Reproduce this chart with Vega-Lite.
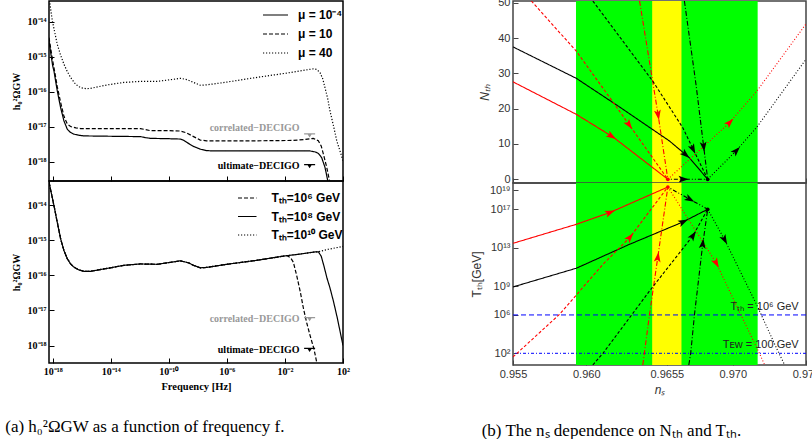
{
  "$schema": "https://vega.github.io/schema/vega-lite/v6.json",
  "padding": {"left": 5, "top": -4, "right": 0, "bottom": 0},
  "background": "white",
  "config": {
    "axis": {"grid": false, "domain": false, "labelOverlap": false, "labelFlush": false, "labelBound": false, "labelSeparation": 0},
    "view": {"stroke": null}
  },
  "datasets": {
    "gw_mu": [
      {"mu": "μ = 10⁻⁴", "log10_f": -18.25, "log10_h2Omega": -14.55},
      {"mu": "μ = 10⁻⁴", "log10_f": -18.0, "log10_h2Omega": -15.25},
      {"mu": "μ = 10⁻⁴", "log10_f": -17.91, "log10_h2Omega": -15.4},
      {"mu": "μ = 10⁻⁴", "log10_f": -17.68, "log10_h2Omega": -15.97},
      {"mu": "μ = 10⁻⁴", "log10_f": -17.45, "log10_h2Omega": -16.45},
      {"mu": "μ = 10⁻⁴", "log10_f": -17.22, "log10_h2Omega": -16.83},
      {"mu": "μ = 10⁻⁴", "log10_f": -16.99, "log10_h2Omega": -17.07},
      {"mu": "μ = 10⁻⁴", "log10_f": -16.77, "log10_h2Omega": -17.16},
      {"mu": "μ = 10⁻⁴", "log10_f": -16.54, "log10_h2Omega": -17.21},
      {"mu": "μ = 10⁻⁴", "log10_f": -16.2, "log10_h2Omega": -17.24},
      {"mu": "μ = 10⁻⁴", "log10_f": -15.85, "log10_h2Omega": -17.26},
      {"mu": "μ = 10⁻⁴", "log10_f": -14.0, "log10_h2Omega": -17.27},
      {"mu": "μ = 10⁻⁴", "log10_f": -11.95, "log10_h2Omega": -17.28},
      {"mu": "μ = 10⁻⁴", "log10_f": -11.6, "log10_h2Omega": -17.31},
      {"mu": "μ = 10⁻⁴", "log10_f": -11.26, "log10_h2Omega": -17.33},
      {"mu": "μ = 10⁻⁴", "log10_f": -10.0, "log10_h2Omega": -17.34},
      {"mu": "μ = 10⁻⁴", "log10_f": -9.2, "log10_h2Omega": -17.35},
      {"mu": "μ = 10⁻⁴", "log10_f": -8.95, "log10_h2Omega": -17.39},
      {"mu": "μ = 10⁻⁴", "log10_f": -8.74, "log10_h2Omega": -17.45},
      {"mu": "μ = 10⁻⁴", "log10_f": -8.3, "log10_h2Omega": -17.56},
      {"mu": "μ = 10⁻⁴", "log10_f": -7.83, "log10_h2Omega": -17.64},
      {"mu": "μ = 10⁻⁴", "log10_f": -7.4, "log10_h2Omega": -17.68},
      {"mu": "μ = 10⁻⁴", "log10_f": -7.0, "log10_h2Omega": -17.69},
      {"mu": "μ = 10⁻⁴", "log10_f": -3.0, "log10_h2Omega": -17.69},
      {"mu": "μ = 10⁻⁴", "log10_f": -0.28, "log10_h2Omega": -17.69},
      {"mu": "μ = 10⁻⁴", "log10_f": 0.1, "log10_h2Omega": -17.72},
      {"mu": "μ = 10⁻⁴", "log10_f": 0.3, "log10_h2Omega": -17.76},
      {"mu": "μ = 10⁻⁴", "log10_f": 0.53, "log10_h2Omega": -17.88},
      {"mu": "μ = 10⁻⁴", "log10_f": 0.76, "log10_h2Omega": -18.16},
      {"mu": "μ = 10⁻⁴", "log10_f": 1.0, "log10_h2Omega": -18.64},
      {"mu": "μ = 10", "log10_f": -18.25, "log10_h2Omega": -14.45},
      {"mu": "μ = 10", "log10_f": -18.0, "log10_h2Omega": -15.1},
      {"mu": "μ = 10", "log10_f": -17.91, "log10_h2Omega": -15.3},
      {"mu": "μ = 10", "log10_f": -17.68, "log10_h2Omega": -15.85},
      {"mu": "μ = 10", "log10_f": -17.45, "log10_h2Omega": -16.3},
      {"mu": "μ = 10", "log10_f": -17.22, "log10_h2Omega": -16.7},
      {"mu": "μ = 10", "log10_f": -16.99, "log10_h2Omega": -16.92},
      {"mu": "μ = 10", "log10_f": -16.76, "log10_h2Omega": -16.99},
      {"mu": "μ = 10", "log10_f": -16.4, "log10_h2Omega": -17.03},
      {"mu": "μ = 10", "log10_f": -16.08, "log10_h2Omega": -17.05},
      {"mu": "μ = 10", "log10_f": -14.0, "log10_h2Omega": -17.05},
      {"mu": "μ = 10", "log10_f": -11.95, "log10_h2Omega": -17.05},
      {"mu": "μ = 10", "log10_f": -11.6, "log10_h2Omega": -17.08},
      {"mu": "μ = 10", "log10_f": -11.26, "log10_h2Omega": -17.11},
      {"mu": "μ = 10", "log10_f": -10.0, "log10_h2Omega": -17.11},
      {"mu": "μ = 10", "log10_f": -9.2, "log10_h2Omega": -17.12},
      {"mu": "μ = 10", "log10_f": -8.8, "log10_h2Omega": -17.17},
      {"mu": "μ = 10", "log10_f": -8.29, "log10_h2Omega": -17.28},
      {"mu": "μ = 10", "log10_f": -7.83, "log10_h2Omega": -17.38},
      {"mu": "μ = 10", "log10_f": -7.4, "log10_h2Omega": -17.4},
      {"mu": "μ = 10", "log10_f": -4.0, "log10_h2Omega": -17.4},
      {"mu": "μ = 10", "log10_f": -1.5, "log10_h2Omega": -17.39},
      {"mu": "μ = 10", "log10_f": -0.6, "log10_h2Omega": -17.36},
      {"mu": "μ = 10", "log10_f": -0.04, "log10_h2Omega": -17.33},
      {"mu": "μ = 10", "log10_f": 0.3, "log10_h2Omega": -17.4},
      {"mu": "μ = 10", "log10_f": 0.5, "log10_h2Omega": -17.55},
      {"mu": "μ = 10", "log10_f": 0.65, "log10_h2Omega": -17.78},
      {"mu": "μ = 10", "log10_f": 0.88, "log10_h2Omega": -18.16},
      {"mu": "μ = 10", "log10_f": 1.1, "log10_h2Omega": -18.6},
      {"mu": "μ = 40", "log10_f": -18.25, "log10_h2Omega": -13.3},
      {"mu": "μ = 40", "log10_f": -18.02, "log10_h2Omega": -13.97},
      {"mu": "μ = 40", "log10_f": -17.68, "log10_h2Omega": -14.64},
      {"mu": "μ = 40", "log10_f": -17.45, "log10_h2Omega": -14.95},
      {"mu": "μ = 40", "log10_f": -17.22, "log10_h2Omega": -15.21},
      {"mu": "μ = 40", "log10_f": -16.99, "log10_h2Omega": -15.42},
      {"mu": "μ = 40", "log10_f": -16.76, "log10_h2Omega": -15.59},
      {"mu": "μ = 40", "log10_f": -16.42, "log10_h2Omega": -15.78},
      {"mu": "μ = 40", "log10_f": -16.08, "log10_h2Omega": -15.88},
      {"mu": "μ = 40", "log10_f": -15.7, "log10_h2Omega": -15.91},
      {"mu": "μ = 40", "log10_f": -15.39, "log10_h2Omega": -15.9},
      {"mu": "μ = 40", "log10_f": -14.24, "log10_h2Omega": -15.8},
      {"mu": "μ = 40", "log10_f": -13.1, "log10_h2Omega": -15.73},
      {"mu": "μ = 40", "log10_f": -11.95, "log10_h2Omega": -15.7},
      {"mu": "μ = 40", "log10_f": -10.8, "log10_h2Omega": -15.7},
      {"mu": "μ = 40", "log10_f": -9.66, "log10_h2Omega": -15.64},
      {"mu": "μ = 40", "log10_f": -9.2, "log10_h2Omega": -15.61},
      {"mu": "μ = 40", "log10_f": -8.74, "log10_h2Omega": -15.65},
      {"mu": "μ = 40", "log10_f": -8.29, "log10_h2Omega": -15.73},
      {"mu": "μ = 40", "log10_f": -7.83, "log10_h2Omega": -15.81},
      {"mu": "μ = 40", "log10_f": -7.4, "log10_h2Omega": -15.8},
      {"mu": "μ = 40", "log10_f": -6.0, "log10_h2Omega": -15.72},
      {"mu": "μ = 40", "log10_f": -4.0, "log10_h2Omega": -15.59},
      {"mu": "μ = 40", "log10_f": -2.0, "log10_h2Omega": -15.47},
      {"mu": "μ = 40", "log10_f": -0.04, "log10_h2Omega": -15.34},
      {"mu": "μ = 40", "log10_f": 0.2, "log10_h2Omega": -15.36},
      {"mu": "μ = 40", "log10_f": 0.42, "log10_h2Omega": -15.45},
      {"mu": "μ = 40", "log10_f": 0.6, "log10_h2Omega": -15.62},
      {"mu": "μ = 40", "log10_f": 0.76, "log10_h2Omega": -15.88},
      {"mu": "μ = 40", "log10_f": 0.95, "log10_h2Omega": -16.2},
      {"mu": "μ = 40", "log10_f": 1.1, "log10_h2Omega": -16.54},
      {"mu": "μ = 40", "log10_f": 1.35, "log10_h2Omega": -16.98},
      {"mu": "μ = 40", "log10_f": 1.57, "log10_h2Omega": -17.4},
      {"mu": "μ = 40", "log10_f": 1.8, "log10_h2Omega": -17.7},
      {"mu": "μ = 40", "log10_f": 2.0, "log10_h2Omega": -17.97}
    ],
    "gw_tth": [
      {"T_th": "Tₜₕ=10⁶ GeV", "log10_f": -18.25, "log10_h2Omega": -13.33},
      {"T_th": "Tₜₕ=10⁶ GeV", "log10_f": -17.91, "log10_h2Omega": -14.0},
      {"T_th": "Tₜₕ=10⁶ GeV", "log10_f": -17.68, "log10_h2Omega": -14.48},
      {"T_th": "Tₜₕ=10⁶ GeV", "log10_f": -17.45, "log10_h2Omega": -14.95},
      {"T_th": "Tₜₕ=10⁶ GeV", "log10_f": -17.22, "log10_h2Omega": -15.29},
      {"T_th": "Tₜₕ=10⁶ GeV", "log10_f": -16.99, "log10_h2Omega": -15.52},
      {"T_th": "Tₜₕ=10⁶ GeV", "log10_f": -16.76, "log10_h2Omega": -15.67},
      {"T_th": "Tₜₕ=10⁶ GeV", "log10_f": -16.54, "log10_h2Omega": -15.76},
      {"T_th": "Tₜₕ=10⁶ GeV", "log10_f": -16.19, "log10_h2Omega": -15.84},
      {"T_th": "Tₜₕ=10⁶ GeV", "log10_f": -15.85, "log10_h2Omega": -15.88},
      {"T_th": "Tₜₕ=10⁶ GeV", "log10_f": -15.39, "log10_h2Omega": -15.88},
      {"T_th": "Tₜₕ=10⁶ GeV", "log10_f": -14.01, "log10_h2Omega": -15.78},
      {"T_th": "Tₜₕ=10⁶ GeV", "log10_f": -13.1, "log10_h2Omega": -15.71},
      {"T_th": "Tₜₕ=10⁶ GeV", "log10_f": -11.95, "log10_h2Omega": -15.67},
      {"T_th": "Tₜₕ=10⁶ GeV", "log10_f": -10.8, "log10_h2Omega": -15.68},
      {"T_th": "Tₜₕ=10⁶ GeV", "log10_f": -9.66, "log10_h2Omega": -15.61},
      {"T_th": "Tₜₕ=10⁶ GeV", "log10_f": -9.2, "log10_h2Omega": -15.58},
      {"T_th": "Tₜₕ=10⁶ GeV", "log10_f": -8.63, "log10_h2Omega": -15.64},
      {"T_th": "Tₜₕ=10⁶ GeV", "log10_f": -8.29, "log10_h2Omega": -15.71},
      {"T_th": "Tₜₕ=10⁶ GeV", "log10_f": -7.83, "log10_h2Omega": -15.78},
      {"T_th": "Tₜₕ=10⁶ GeV", "log10_f": -7.4, "log10_h2Omega": -15.77},
      {"T_th": "Tₜₕ=10⁶ GeV", "log10_f": -6.0, "log10_h2Omega": -15.68},
      {"T_th": "Tₜₕ=10⁶ GeV", "log10_f": -4.0, "log10_h2Omega": -15.57},
      {"T_th": "Tₜₕ=10⁶ GeV", "log10_f": -2.0, "log10_h2Omega": -15.44},
      {"T_th": "Tₜₕ=10⁶ GeV", "log10_f": -1.87, "log10_h2Omega": -15.43},
      {"T_th": "Tₜₕ=10⁶ GeV", "log10_f": -1.6, "log10_h2Omega": -15.5},
      {"T_th": "Tₜₕ=10⁶ GeV", "log10_f": -1.42, "log10_h2Omega": -15.62},
      {"T_th": "Tₜₕ=10⁶ GeV", "log10_f": -1.19, "log10_h2Omega": -16.0},
      {"T_th": "Tₜₕ=10⁶ GeV", "log10_f": -0.95, "log10_h2Omega": -16.45},
      {"T_th": "Tₜₕ=10⁶ GeV", "log10_f": -0.72, "log10_h2Omega": -16.95},
      {"T_th": "Tₜₕ=10⁶ GeV", "log10_f": -0.5, "log10_h2Omega": -17.35},
      {"T_th": "Tₜₕ=10⁶ GeV", "log10_f": -0.27, "log10_h2Omega": -17.71},
      {"T_th": "Tₜₕ=10⁶ GeV", "log10_f": 0.0, "log10_h2Omega": -18.1},
      {"T_th": "Tₜₕ=10⁶ GeV", "log10_f": 0.19, "log10_h2Omega": -18.48},
      {"T_th": "Tₜₕ=10⁶ GeV", "log10_f": 0.3, "log10_h2Omega": -18.7},
      {"T_th": "Tₜₕ=10⁸ GeV", "log10_f": -18.25, "log10_h2Omega": -13.33},
      {"T_th": "Tₜₕ=10⁸ GeV", "log10_f": -17.91, "log10_h2Omega": -14.0},
      {"T_th": "Tₜₕ=10⁸ GeV", "log10_f": -17.68, "log10_h2Omega": -14.48},
      {"T_th": "Tₜₕ=10⁸ GeV", "log10_f": -17.45, "log10_h2Omega": -14.95},
      {"T_th": "Tₜₕ=10⁸ GeV", "log10_f": -17.22, "log10_h2Omega": -15.29},
      {"T_th": "Tₜₕ=10⁸ GeV", "log10_f": -16.99, "log10_h2Omega": -15.52},
      {"T_th": "Tₜₕ=10⁸ GeV", "log10_f": -16.76, "log10_h2Omega": -15.67},
      {"T_th": "Tₜₕ=10⁸ GeV", "log10_f": -16.54, "log10_h2Omega": -15.76},
      {"T_th": "Tₜₕ=10⁸ GeV", "log10_f": -16.19, "log10_h2Omega": -15.84},
      {"T_th": "Tₜₕ=10⁸ GeV", "log10_f": -15.85, "log10_h2Omega": -15.88},
      {"T_th": "Tₜₕ=10⁸ GeV", "log10_f": -15.39, "log10_h2Omega": -15.88},
      {"T_th": "Tₜₕ=10⁸ GeV", "log10_f": -14.01, "log10_h2Omega": -15.78},
      {"T_th": "Tₜₕ=10⁸ GeV", "log10_f": -13.1, "log10_h2Omega": -15.71},
      {"T_th": "Tₜₕ=10⁸ GeV", "log10_f": -11.95, "log10_h2Omega": -15.67},
      {"T_th": "Tₜₕ=10⁸ GeV", "log10_f": -10.8, "log10_h2Omega": -15.68},
      {"T_th": "Tₜₕ=10⁸ GeV", "log10_f": -9.66, "log10_h2Omega": -15.61},
      {"T_th": "Tₜₕ=10⁸ GeV", "log10_f": -9.2, "log10_h2Omega": -15.58},
      {"T_th": "Tₜₕ=10⁸ GeV", "log10_f": -8.63, "log10_h2Omega": -15.64},
      {"T_th": "Tₜₕ=10⁸ GeV", "log10_f": -8.29, "log10_h2Omega": -15.71},
      {"T_th": "Tₜₕ=10⁸ GeV", "log10_f": -7.83, "log10_h2Omega": -15.78},
      {"T_th": "Tₜₕ=10⁸ GeV", "log10_f": -7.4, "log10_h2Omega": -15.77},
      {"T_th": "Tₜₕ=10⁸ GeV", "log10_f": -6.0, "log10_h2Omega": -15.68},
      {"T_th": "Tₜₕ=10⁸ GeV", "log10_f": -4.0, "log10_h2Omega": -15.57},
      {"T_th": "Tₜₕ=10⁸ GeV", "log10_f": -2.0, "log10_h2Omega": -15.44},
      {"T_th": "Tₜₕ=10⁸ GeV", "log10_f": -1.0, "log10_h2Omega": -15.39},
      {"T_th": "Tₜₕ=10⁸ GeV", "log10_f": 0.0, "log10_h2Omega": -15.33},
      {"T_th": "Tₜₕ=10⁸ GeV", "log10_f": 0.3, "log10_h2Omega": -15.32},
      {"T_th": "Tₜₕ=10⁸ GeV", "log10_f": 0.5, "log10_h2Omega": -15.45},
      {"T_th": "Tₜₕ=10⁸ GeV", "log10_f": 0.7, "log10_h2Omega": -15.75},
      {"T_th": "Tₜₕ=10⁸ GeV", "log10_f": 0.9, "log10_h2Omega": -16.08},
      {"T_th": "Tₜₕ=10⁸ GeV", "log10_f": 1.1, "log10_h2Omega": -16.35},
      {"T_th": "Tₜₕ=10⁸ GeV", "log10_f": 1.35, "log10_h2Omega": -16.75},
      {"T_th": "Tₜₕ=10⁸ GeV", "log10_f": 1.6, "log10_h2Omega": -17.2},
      {"T_th": "Tₜₕ=10⁸ GeV", "log10_f": 1.8, "log10_h2Omega": -17.6},
      {"T_th": "Tₜₕ=10⁸ GeV", "log10_f": 2.0, "log10_h2Omega": -18.0},
      {"T_th": "Tₜₕ=10¹⁰ GeV", "log10_f": -18.25, "log10_h2Omega": -13.33},
      {"T_th": "Tₜₕ=10¹⁰ GeV", "log10_f": -17.91, "log10_h2Omega": -14.0},
      {"T_th": "Tₜₕ=10¹⁰ GeV", "log10_f": -17.68, "log10_h2Omega": -14.48},
      {"T_th": "Tₜₕ=10¹⁰ GeV", "log10_f": -17.45, "log10_h2Omega": -14.95},
      {"T_th": "Tₜₕ=10¹⁰ GeV", "log10_f": -17.22, "log10_h2Omega": -15.29},
      {"T_th": "Tₜₕ=10¹⁰ GeV", "log10_f": -16.99, "log10_h2Omega": -15.52},
      {"T_th": "Tₜₕ=10¹⁰ GeV", "log10_f": -16.76, "log10_h2Omega": -15.67},
      {"T_th": "Tₜₕ=10¹⁰ GeV", "log10_f": -16.54, "log10_h2Omega": -15.76},
      {"T_th": "Tₜₕ=10¹⁰ GeV", "log10_f": -16.19, "log10_h2Omega": -15.84},
      {"T_th": "Tₜₕ=10¹⁰ GeV", "log10_f": -15.85, "log10_h2Omega": -15.88},
      {"T_th": "Tₜₕ=10¹⁰ GeV", "log10_f": -15.39, "log10_h2Omega": -15.88},
      {"T_th": "Tₜₕ=10¹⁰ GeV", "log10_f": -14.01, "log10_h2Omega": -15.78},
      {"T_th": "Tₜₕ=10¹⁰ GeV", "log10_f": -13.1, "log10_h2Omega": -15.71},
      {"T_th": "Tₜₕ=10¹⁰ GeV", "log10_f": -11.95, "log10_h2Omega": -15.67},
      {"T_th": "Tₜₕ=10¹⁰ GeV", "log10_f": -10.8, "log10_h2Omega": -15.68},
      {"T_th": "Tₜₕ=10¹⁰ GeV", "log10_f": -9.66, "log10_h2Omega": -15.61},
      {"T_th": "Tₜₕ=10¹⁰ GeV", "log10_f": -9.2, "log10_h2Omega": -15.58},
      {"T_th": "Tₜₕ=10¹⁰ GeV", "log10_f": -8.63, "log10_h2Omega": -15.64},
      {"T_th": "Tₜₕ=10¹⁰ GeV", "log10_f": -8.29, "log10_h2Omega": -15.71},
      {"T_th": "Tₜₕ=10¹⁰ GeV", "log10_f": -7.83, "log10_h2Omega": -15.78},
      {"T_th": "Tₜₕ=10¹⁰ GeV", "log10_f": -7.4, "log10_h2Omega": -15.77},
      {"T_th": "Tₜₕ=10¹⁰ GeV", "log10_f": -6.0, "log10_h2Omega": -15.68},
      {"T_th": "Tₜₕ=10¹⁰ GeV", "log10_f": -4.0, "log10_h2Omega": -15.57},
      {"T_th": "Tₜₕ=10¹⁰ GeV", "log10_f": -2.0, "log10_h2Omega": -15.44},
      {"T_th": "Tₜₕ=10¹⁰ GeV", "log10_f": -1.0, "log10_h2Omega": -15.39},
      {"T_th": "Tₜₕ=10¹⁰ GeV", "log10_f": 0.0, "log10_h2Omega": -15.33},
      {"T_th": "Tₜₕ=10¹⁰ GeV", "log10_f": 0.3, "log10_h2Omega": -15.32},
      {"T_th": "Tₜₕ=10¹⁰ GeV", "log10_f": 1.0, "log10_h2Omega": -15.25},
      {"T_th": "Tₜₕ=10¹⁰ GeV", "log10_f": 2.0, "log10_h2Omega": -15.17}
    ],
    "decigo": [
      {"detector": "correlated−DECIGO", "log10_f": -0.3, "log10_h2Omega": -17.25},
      {"detector": "ultimate−DECIGO", "log10_f": -0.3, "log10_h2Omega": -18.13}
    ],
    "planck": [
      {"band": "outer", "ns_low": 0.9593, "ns_high": 0.9717},
      {"band": "inner", "ns_low": 0.9645, "ns_high": 0.9665}
    ],
    "nth": [
      {"model": "A", "case": "1", "ns": 0.955, "N": 27.6},
      {"model": "A", "case": "1", "ns": 0.95932, "N": 18.4},
      {"model": "A", "case": "1", "ns": 0.96182, "N": 12.0},
      {"model": "A", "case": "1", "ns": 0.96557, "N": 0},
      {"model": "B", "case": "1", "ns": 0.955, "N": 37.5},
      {"model": "B", "case": "1", "ns": 0.95932, "N": 28.6},
      {"model": "B", "case": "1", "ns": 0.96227, "N": 20.5},
      {"model": "B", "case": "1", "ns": 0.96568, "N": 10.85},
      {"model": "B", "case": "1", "ns": 0.96704, "N": 6.1},
      {"model": "B", "case": "1", "ns": 0.96829, "N": 0},
      {"model": "A", "case": "2", "ns": 0.95625, "N": 50.5},
      {"model": "A", "case": "2", "ns": 0.95932, "N": 36.3},
      {"model": "A", "case": "2", "ns": 0.96227, "N": 19.3},
      {"model": "A", "case": "2", "ns": 0.96557, "N": 0},
      {"model": "A", "case": "3", "ns": 0.96364, "N": 50.5},
      {"model": "A", "case": "3", "ns": 0.96488, "N": 18.9},
      {"model": "A", "case": "3", "ns": 0.96557, "N": 0},
      {"model": "B", "case": "2", "ns": 0.96045, "N": 50.5},
      {"model": "B", "case": "2", "ns": 0.96454, "N": 27.8},
      {"model": "B", "case": "2", "ns": 0.96659, "N": 14.6},
      {"model": "B", "case": "2", "ns": 0.96829, "N": 0},
      {"model": "B", "case": "3", "ns": 0.9667, "N": 50.5},
      {"model": "B", "case": "3", "ns": 0.96749, "N": 26.9},
      {"model": "B", "case": "3", "ns": 0.96829, "N": 0},
      {"model": "A", "case": "4", "ns": 0.96557, "N": 0},
      {"model": "A", "case": "4", "ns": 0.96977, "N": 16.0},
      {"model": "A", "case": "4", "ns": 0.97165, "N": 25.0},
      {"model": "A", "case": "4", "ns": 0.975, "N": 44.0},
      {"model": "B", "case": "4", "ns": 0.96829, "N": 0},
      {"model": "B", "case": "4", "ns": 0.97022, "N": 8.0},
      {"model": "B", "case": "4", "ns": 0.97165, "N": 14.8},
      {"model": "B", "case": "4", "ns": 0.975, "N": 34.0},
      {"model": "B", "case": "5", "ns": 0.96557, "N": 0},
      {"model": "B", "case": "5", "ns": 0.96829, "N": 0}
    ],
    "nth_arrows": [
      {"model": "A", "ns": 0.9617, "N": 12.3, "heading": 122},
      {"model": "A", "ns": 0.9629, "N": 15.6, "heading": 145},
      {"model": "A", "ns": 0.9649, "N": 18.4, "heading": 171},
      {"model": "A", "ns": 0.96977, "N": 16.0, "heading": 45},
      {"model": "B", "ns": 0.96675, "N": 7.1, "heading": 130},
      {"model": "B", "ns": 0.96727, "N": 8.7, "heading": 154},
      {"model": "B", "ns": 0.96801, "N": 9.4, "heading": 173},
      {"model": "B", "ns": 0.97022, "N": 8.0, "heading": 43},
      {"model": "B", "ns": 0.96659, "N": 0, "heading": 90}
    ],
    "nth_dots": [
      {"model": "A", "ns": 0.96557, "N": 0},
      {"model": "B", "ns": 0.96829, "N": 0}
    ],
    "tth": [
      {"model": "A", "case": "1", "ns": 0.955, "log10_T": 13.47},
      {"model": "A", "case": "1", "ns": 0.95932, "log10_T": 15.45},
      {"model": "A", "case": "1", "ns": 0.96159, "log10_T": 16.67},
      {"model": "A", "case": "1", "ns": 0.96557, "log10_T": 19.34},
      {"model": "B", "case": "1", "ns": 0.955, "log10_T": 8.92},
      {"model": "B", "case": "1", "ns": 0.95932, "log10_T": 10.87},
      {"model": "B", "case": "1", "ns": 0.96296, "log10_T": 13.37},
      {"model": "B", "case": "1", "ns": 0.96659, "log10_T": 15.69},
      {"model": "B", "case": "1", "ns": 0.96829, "log10_T": 17.02},
      {"model": "A", "case": "2", "ns": 0.955, "log10_T": 1.62},
      {"model": "A", "case": "2", "ns": 0.95818, "log10_T": 6.07},
      {"model": "A", "case": "2", "ns": 0.96114, "log10_T": 11.28},
      {"model": "A", "case": "2", "ns": 0.96296, "log10_T": 14.06},
      {"model": "A", "case": "2", "ns": 0.96557, "log10_T": 19.34},
      {"model": "A", "case": "3", "ns": 0.96386, "log10_T": 0.78},
      {"model": "A", "case": "3", "ns": 0.96432, "log10_T": 6.07},
      {"model": "A", "case": "3", "ns": 0.96488, "log10_T": 11.97},
      {"model": "A", "case": "3", "ns": 0.96557, "log10_T": 19.34},
      {"model": "B", "case": "2", "ns": 0.96045, "log10_T": 0.78},
      {"model": "B", "case": "2", "ns": 0.96114, "log10_T": 2.0},
      {"model": "B", "case": "2", "ns": 0.96432, "log10_T": 8.5},
      {"model": "B", "case": "2", "ns": 0.96727, "log10_T": 14.24},
      {"model": "B", "case": "2", "ns": 0.96829, "log10_T": 17.02},
      {"model": "B", "case": "3", "ns": 0.967, "log10_T": 0.78},
      {"model": "B", "case": "3", "ns": 0.96713, "log10_T": 2.0},
      {"model": "B", "case": "3", "ns": 0.96739, "log10_T": 6.07},
      {"model": "B", "case": "3", "ns": 0.96795, "log10_T": 13.37},
      {"model": "B", "case": "3", "ns": 0.96829, "log10_T": 17.02},
      {"model": "A", "case": "4", "ns": 0.96557, "log10_T": 19.34},
      {"model": "A", "case": "4", "ns": 0.96886, "log10_T": 11.45},
      {"model": "A", "case": "4", "ns": 0.97056, "log10_T": 6.0},
      {"model": "A", "case": "4", "ns": 0.97182, "log10_T": 2.0},
      {"model": "A", "case": "4", "ns": 0.97218, "log10_T": 0.78},
      {"model": "B", "case": "4", "ns": 0.96829, "log10_T": 17.02},
      {"model": "B", "case": "4", "ns": 0.96943, "log10_T": 13.89},
      {"model": "B", "case": "4", "ns": 0.97165, "log10_T": 7.0},
      {"model": "B", "case": "4", "ns": 0.97195, "log10_T": 6.0},
      {"model": "B", "case": "4", "ns": 0.97315, "log10_T": 2.0},
      {"model": "B", "case": "4", "ns": 0.97355, "log10_T": 0.78},
      {"model": "B", "case": "5", "ns": 0.96557, "log10_T": 19.34},
      {"model": "B", "case": "5", "ns": 0.96829, "log10_T": 17.02}
    ],
    "tth_arrows": [
      {"model": "A", "ns": 0.96159, "log10_T": 16.67, "heading": 68},
      {"model": "A", "ns": 0.96296, "log10_T": 14.06, "heading": 40},
      {"model": "A", "ns": 0.96488, "log10_T": 11.97, "heading": 8},
      {"model": "A", "ns": 0.96886, "log10_T": 11.45, "heading": 151},
      {"model": "B", "ns": 0.96659, "log10_T": 15.69, "heading": 65},
      {"model": "B", "ns": 0.96727, "log10_T": 14.24, "heading": 34},
      {"model": "B", "ns": 0.96795, "log10_T": 13.37, "heading": 7},
      {"model": "B", "ns": 0.96943, "log10_T": 13.89, "heading": 152},
      {"model": "B", "ns": 0.96704, "log10_T": 18.09, "heading": 119}
    ],
    "tth_dots": [
      {"model": "A", "ns": 0.96557, "log10_T": 19.34},
      {"model": "B", "ns": 0.96829, "log10_T": 17.02}
    ],
    "thresholds": [
      {"threshold": "T_th", "log10_T": 6, "label": "Tₜₕ = 10⁶ GeV"},
      {"threshold": "T_EW", "log10_T": 2, "label": "Tᴇᴡ = 100 GeV"}
    ]
  },
  "hconcat": [
    {
      "vconcat": [
        {
          "width": 294, "height": 180,
          "view": {"stroke": "black", "strokeWidth": 1.5},
          "layer": [
            {
              "data": {"name": "gw_mu"},
              "mark": {"type": "line", "clip": true, "strokeWidth": 1.2, "color": "black"},
              "encoding": {
                "x": {"field": "log10_f", "type": "quantitative", "scale": {"domain": [-18.25, 2], "nice": false, "zero": false},
                  "axis": {"values": [-18, -14, -10, -6, -2, 2], "labels": false, "title": null, "tickSize": -5, "tickColor": "black"}},
                "y": {"field": "log10_h2Omega", "type": "quantitative", "scale": {"domain": [-18.55, -13.4], "nice": false, "zero": false},
                  "axis": {"values": [-18, -17, -16, -15, -14], "labelOverlap": false, "labelExpr": "'10' + replace(replace(replace(replace(replace(replace(replace(replace(replace(replace(replace(toString(datum.value), '-', '⁻'), '0', '⁰'), '1', '¹'), '2', '²'), '3', '³'), '4', '⁴'), '5', '⁵'), '6', '⁶'), '7', '⁷'), '8', '⁸'), '9', '⁹')",
                    "title": "h₀²ΩGW", "tickSize": -5, "tickColor": "black", "labelPadding": 8, "labelFont": "Liberation Serif", "labelFontWeight": "bold", "labelFontSize": 10, "labelColor": "black",
                    "titleFont": "Liberation Serif", "titleFontWeight": "bold", "titleFontSize": 10, "titleColor": "black", "titlePadding": 6}},
                "strokeDash": {"field": "mu", "type": "nominal",
                  "scale": {"domain": ["μ = 10⁻⁴", "μ = 10", "μ = 40"], "range": [[1, 0], [4, 2], [1.2, 1.8]]},
                  "legend": {"orient": "none", "legendX": 220.5, "legendY": 8, "title": null, "symbolType": "M-2.5,0L2.5,0", "symbolSize": 100,
                    "symbolStrokeColor": "black", "symbolStrokeWidth": 1.2, "symbolFillColor": "transparent",
                    "labelFont": "Liberation Sans", "labelFontWeight": "bold", "labelFontSize": 12, "labelColor": "black", "labelOffset": 16.5, "rowPadding": 7, "padding": 0}}
              }
            },
            {
              "data": {"name": "decigo"},
              "mark": {"type": "point", "shape": "M-1,-0.4L1,-0.4L1,-0.2L0.35,-0.2L0,0.35L-0.35,-0.2L-1,-0.2Z", "filled": true, "size": 121, "opacity": 1},
              "encoding": {
                "x": {"field": "log10_f", "type": "quantitative", "scale": {"domain": [-18.25, 2], "nice": false, "zero": false}},
                "y": {"field": "log10_h2Omega", "type": "quantitative", "scale": {"domain": [-18.55, -13.4], "nice": false, "zero": false}},
                "color": {"field": "detector", "type": "nominal", "scale": {"domain": ["correlated−DECIGO", "ultimate−DECIGO"], "range": ["#999999", "#000000"]}, "legend": null}
              }
            },
            {
              "data": {"name": "decigo"},
              "transform": [{"filter": "datum.detector == 'correlated−DECIGO'"}],
              "mark": {"type": "text", "align": "right", "baseline": "middle", "dx": -10, "dy": -8, "font": "Liberation Serif", "fontWeight": "bold", "fontSize": 10},
              "encoding": {
                "x": {"field": "log10_f", "type": "quantitative", "scale": {"domain": [-18.25, 2], "nice": false, "zero": false}},
                "y": {"field": "log10_h2Omega", "type": "quantitative", "scale": {"domain": [-18.55, -13.4], "nice": false, "zero": false}},
                "text": {"field": "detector"},
                "color": {"field": "detector", "type": "nominal", "scale": {"domain": ["correlated−DECIGO", "ultimate−DECIGO"], "range": ["#999999", "#000000"]}, "legend": null}
              }
            },
            {
              "data": {"name": "decigo"},
              "transform": [{"filter": "datum.detector == 'ultimate−DECIGO'"}],
              "mark": {"type": "text", "align": "right", "baseline": "middle", "dx": -10, "font": "Liberation Serif", "fontWeight": "bold", "fontSize": 10},
              "encoding": {
                "x": {"field": "log10_f", "type": "quantitative", "scale": {"domain": [-18.25, 2], "nice": false, "zero": false}},
                "y": {"field": "log10_h2Omega", "type": "quantitative", "scale": {"domain": [-18.55, -13.4], "nice": false, "zero": false}},
                "text": {"field": "detector"},
                "color": {"field": "detector", "type": "nominal", "scale": {"domain": ["correlated−DECIGO", "ultimate−DECIGO"], "range": ["#999999", "#000000"]}, "legend": null}
              }
            }
          ]
        },
        {
          "width": 294, "height": 182,
          "view": {"stroke": "black", "strokeWidth": 1.5},
          "layer": [
            {
              "data": {"name": "gw_tth"},
              "mark": {"type": "line", "clip": true, "strokeWidth": 1.2, "color": "black"},
              "encoding": {
                "x": {"field": "log10_f", "type": "quantitative", "scale": {"domain": [-18.25, 2], "nice": false, "zero": false},
                  "axis": {"values": [-18, -14, -10, -6, -2, 2], "labelOverlap": false, "labelExpr": "'10' + replace(replace(replace(replace(replace(replace(replace(replace(replace(replace(replace(toString(datum.value), '-', '⁻'), '0', '⁰'), '1', '¹'), '2', '²'), '3', '³'), '4', '⁴'), '5', '⁵'), '6', '⁶'), '7', '⁷'), '8', '⁸'), '9', '⁹')",
                    "title": "Frequency [Hz]", "tickSize": -5, "tickColor": "black", "labelPadding": 8, "labelFont": "Liberation Serif", "labelFontWeight": "bold", "labelFontSize": 10, "labelColor": "black",
                    "titleFont": "Liberation Serif", "titleFontWeight": "bold", "titleFontSize": 10.5, "titleColor": "black", "titlePadding": 5}},
                "y": {"field": "log10_h2Omega", "type": "quantitative", "scale": {"domain": [-18.5, -13.3], "nice": false, "zero": false},
                  "axis": {"values": [-18, -17, -16, -15, -14], "labelOverlap": false, "labelExpr": "'10' + replace(replace(replace(replace(replace(replace(replace(replace(replace(replace(replace(toString(datum.value), '-', '⁻'), '0', '⁰'), '1', '¹'), '2', '²'), '3', '³'), '4', '⁴'), '5', '⁵'), '6', '⁶'), '7', '⁷'), '8', '⁸'), '9', '⁹')",
                    "title": "h₀²ΩGW", "tickSize": -5, "tickColor": "black", "labelPadding": 8, "labelFont": "Liberation Serif", "labelFontWeight": "bold", "labelFontSize": 10, "labelColor": "black",
                    "titleFont": "Liberation Serif", "titleFontWeight": "bold", "titleFontSize": 10, "titleColor": "black", "titlePadding": 6}},
                "strokeDash": {"field": "T_th", "type": "nominal",
                  "scale": {"domain": ["Tₜₕ=10⁶ GeV", "Tₜₕ=10⁸ GeV", "Tₜₕ=10¹⁰ GeV"], "range": [[4, 2], [1, 0], [1.2, 1.8]]},
                  "legend": {"orient": "none", "legendX": 192.25, "legendY": 11, "title": null, "symbolType": "M-1.85,0L1.85,0", "symbolSize": 100,
                    "symbolStrokeColor": "black", "symbolStrokeWidth": 1.2, "symbolFillColor": "transparent",
                    "labelFont": "Liberation Sans", "labelFontWeight": "bold", "labelFontSize": 12, "labelColor": "black", "labelOffset": 18.25, "rowPadding": 6.5, "padding": 0}}
              }
            },
            {
              "data": {"name": "decigo"},
              "mark": {"type": "point", "shape": "M-1,-0.4L1,-0.4L1,-0.2L0.35,-0.2L0,0.35L-0.35,-0.2L-1,-0.2Z", "filled": true, "size": 121, "opacity": 1},
              "encoding": {
                "x": {"field": "log10_f", "type": "quantitative", "scale": {"domain": [-18.25, 2], "nice": false, "zero": false}},
                "y": {"field": "log10_h2Omega", "type": "quantitative", "scale": {"domain": [-18.5, -13.3], "nice": false, "zero": false}},
                "color": {"field": "detector", "type": "nominal", "scale": {"domain": ["correlated−DECIGO", "ultimate−DECIGO"], "range": ["#999999", "#000000"]}, "legend": null}
              }
            },
            {
              "data": {"name": "decigo"},
              "mark": {"type": "text", "align": "right", "baseline": "middle", "dx": -10, "font": "Liberation Serif", "fontWeight": "bold", "fontSize": 10},
              "encoding": {
                "x": {"field": "log10_f", "type": "quantitative", "scale": {"domain": [-18.25, 2], "nice": false, "zero": false}},
                "y": {"field": "log10_h2Omega", "type": "quantitative", "scale": {"domain": [-18.5, -13.3], "nice": false, "zero": false}},
                "text": {"field": "detector"},
                "color": {"field": "detector", "type": "nominal", "scale": {"domain": ["correlated−DECIGO", "ultimate−DECIGO"], "range": ["#999999", "#000000"]}, "legend": null}
              }
            }
          ]
        }
      ],
      "spacing": 0,
      "bounds": "flush",
      "resolve": {"scale": {"x": "independent", "y": "independent", "color": "independent", "strokeDash": "independent"}, "legend": {"strokeDash": "independent", "color": "independent"}},
      "title": {"text": "(a) h₀²ΩGW as a function of frequency f.", "orient": "bottom", "anchor": "start", "frame": "bounds", "font": "Liberation Serif", "fontSize": 17, "fontWeight": "normal", "color": "black", "offset": 27, "dx": -5}
    },
    {
      "vconcat": [
        {
          "width": 293, "height": 182,
          "view": {"stroke": "#444444", "strokeWidth": 1.5},
          "layer": [
            {
              "data": {"name": "planck"},
              "mark": {"type": "rect"},
              "encoding": {
                "x": {"field": "ns_low", "type": "quantitative", "scale": {"domain": [0.955, 0.975], "nice": false, "zero": false},
                  "axis": {"values": [0.955, 0.96, 0.9655, 0.97, 0.975], "labels": false, "title": null, "tickSize": -5, "tickColor": "#444444"}},
                "x2": {"field": "ns_high"},
                "fill": {"field": "band", "type": "nominal", "scale": {"domain": ["outer", "inner"], "range": ["#00ff00", "#ffff00"]}, "legend": null}
              }
            },
            {
              "encoding": {
                "y": {"field": "N", "type": "quantitative", "scale": {"domain": [-1.05, 50.5], "nice": false, "zero": false},
                  "axis": {"values": [0, 10, 20, 30, 40, 50], "labelOverlap": false, "title": "Nₜₕ", "tickSize": -5, "tickColor": "#444444", "labelPadding": 8, "labelFont": "Liberation Sans", "labelFontSize": 11, "labelColor": "#333333",
                    "titleFont": "Liberation Sans", "titleFontSize": 12, "titleFontStyle": "italic", "titleFontWeight": "normal", "titleColor": "#333333", "titlePadding": 6}}
              },
              "layer": [
                {
                  "data": {"name": "nth"},
                  "mark": {"type": "line", "clip": true, "strokeWidth": 1.1},
                  "encoding": {
                    "x": {"field": "ns", "type": "quantitative", "scale": {"domain": [0.955, 0.975], "nice": false, "zero": false}},
                    "stroke": {"field": "model", "type": "nominal", "scale": {"domain": ["A", "B"], "range": ["#ff0000", "#000000"]}, "legend": null},
                    "strokeDash": {"field": "case", "type": "nominal", "scale": {"domain": ["1", "2", "3", "4", "5"], "range": [[1, 0], [3, 2], [5, 2, 1, 2], [1, 2], [1, 2, 1, 2, 4, 2]]}, "legend": null}
                  }
                },
                {
                  "data": {"name": "nth_arrows"},
                  "mark": {"type": "point", "shape": "M0,-1L0.6,0.75L0,0.35L-0.6,0.75Z", "filled": true, "size": 130, "opacity": 1},
                  "encoding": {
                    "x": {"field": "ns", "type": "quantitative", "scale": {"domain": [0.955, 0.975], "nice": false, "zero": false}},
                    "color": {"field": "model", "type": "nominal", "scale": {"domain": ["A", "B"], "range": ["#ff0000", "#000000"]}, "legend": null},
                    "angle": {"field": "heading", "type": "quantitative", "scale": null}
                  }
                },
                {
                  "data": {"name": "nth_dots"},
                  "mark": {"type": "circle", "size": 14, "opacity": 1},
                  "encoding": {
                    "x": {"field": "ns", "type": "quantitative", "scale": {"domain": [0.955, 0.975], "nice": false, "zero": false}},
                    "color": {"field": "model", "type": "nominal", "scale": {"domain": ["A", "B"], "range": ["#ff0000", "#000000"]}, "legend": null}
                  }
                }
              ]
            }
          ]
        },
        {
          "width": 293, "height": 182,
          "view": {"stroke": "#444444", "strokeWidth": 1.5},
          "layer": [
            {
              "data": {"name": "planck"},
              "mark": {"type": "rect"},
              "encoding": {
                "x": {"field": "ns_low", "type": "quantitative", "scale": {"domain": [0.955, 0.975], "nice": false, "zero": false},
                  "axis": {"values": [0.955, 0.96, 0.9655, 0.97, 0.975], "labelOverlap": false, "labelExpr": "datum.value == 0.9655 ? '0.9655' : format(datum.value, '.3f')", "title": "nₛ", "tickSize": -5, "tickColor": "#444444", "labelPadding": 8,
                    "labelFont": "Liberation Sans", "labelFontSize": 11, "labelColor": "#333333",
                    "titleFont": "Liberation Sans", "titleFontSize": 12, "titleFontStyle": "italic", "titleFontWeight": "normal", "titleColor": "#333333", "titlePadding": 5}},
                "x2": {"field": "ns_high"},
                "fill": {"field": "band", "type": "nominal", "scale": {"domain": ["outer", "inner"], "range": ["#00ff00", "#ffff00"]}, "legend": null}
              }
            },
            {
              "encoding": {
                "y": {"field": "log10_T", "type": "quantitative", "scale": {"domain": [0.78, 19.76], "nice": false, "zero": false},
                  "axis": {"values": [2, 6, 9, 13, 17, 19], "labelOverlap": false, "labelExpr": "'10' + replace(replace(replace(replace(replace(replace(replace(replace(replace(replace(replace(toString(datum.value), '-', '⁻'), '0', '⁰'), '1', '¹'), '2', '²'), '3', '³'), '4', '⁴'), '5', '⁵'), '6', '⁶'), '7', '⁷'), '8', '⁸'), '9', '⁹')",
                    "title": "Tₜₕ[GeV]", "tickSize": -5, "tickColor": "#444444", "labelPadding": 8, "labelFont": "Liberation Sans", "labelFontSize": 11, "labelColor": "#333333",
                    "titleFont": "Liberation Sans", "titleFontSize": 12, "titleFontWeight": "normal", "titleColor": "#333333", "titlePadding": 6}}
              },
              "layer": [
                {
                  "data": {"name": "thresholds"},
                  "transform": [{"filter": "datum.threshold == 'T_th'"}],
                  "mark": {"type": "rule", "color": "#0000ff", "strokeWidth": 1, "strokeDash": [5, 3]},
                  "encoding": {}
                },
                {
                  "data": {"name": "thresholds"},
                  "transform": [{"filter": "datum.threshold == 'T_EW'"}],
                  "mark": {"type": "rule", "color": "#0000ff", "strokeWidth": 1, "strokeDash": [3, 2, 1, 2]},
                  "encoding": {}
                },
                {
                  "data": {"name": "tth"},
                  "mark": {"type": "line", "clip": true, "strokeWidth": 1.1},
                  "encoding": {
                    "x": {"field": "ns", "type": "quantitative", "scale": {"domain": [0.955, 0.975], "nice": false, "zero": false}},
                    "stroke": {"field": "model", "type": "nominal", "scale": {"domain": ["A", "B"], "range": ["#ff0000", "#000000"]}, "legend": null},
                    "strokeDash": {"field": "case", "type": "nominal", "scale": {"domain": ["1", "2", "3", "4", "5"], "range": [[1, 0], [3, 2], [5, 2, 1, 2], [1, 2], [1, 2, 1, 2, 4, 2]]}, "legend": null}
                  }
                },
                {
                  "data": {"name": "tth_arrows"},
                  "mark": {"type": "point", "shape": "M0,-1L0.6,0.75L0,0.35L-0.6,0.75Z", "filled": true, "size": 130, "opacity": 1},
                  "encoding": {
                    "x": {"field": "ns", "type": "quantitative", "scale": {"domain": [0.955, 0.975], "nice": false, "zero": false}},
                    "color": {"field": "model", "type": "nominal", "scale": {"domain": ["A", "B"], "range": ["#ff0000", "#000000"]}, "legend": null},
                    "angle": {"field": "heading", "type": "quantitative", "scale": null}
                  }
                },
                {
                  "data": {"name": "tth_dots"},
                  "mark": {"type": "circle", "size": 14, "opacity": 1},
                  "encoding": {
                    "x": {"field": "ns", "type": "quantitative", "scale": {"domain": [0.955, 0.975], "nice": false, "zero": false}},
                    "color": {"field": "model", "type": "nominal", "scale": {"domain": ["A", "B"], "range": ["#ff0000", "#000000"]}, "legend": null}
                  }
                },
                {
                  "data": {"name": "thresholds"},
                  "mark": {"type": "text", "align": "right", "baseline": "alphabetic", "dy": -5, "font": "Liberation Sans", "fontSize": 11, "color": "#222222"},
                  "encoding": {
                    "x": {"datum": 0.9745, "type": "quantitative", "scale": {"domain": [0.955, 0.975], "nice": false, "zero": false}},
                    "text": {"field": "label"}
                  }
                }
              ]
            }
          ]
        }
      ],
      "spacing": 0,
      "bounds": "flush",
      "resolve": {"scale": {"x": "independent", "y": "independent", "color": "independent", "fill": "independent", "stroke": "independent", "strokeDash": "independent"}, "legend": {"strokeDash": "independent", "color": "independent"}},
      "title": {"text": "(b) The nₛ dependence on Nₜₕ and Tₜₕ.", "orient": "bottom", "anchor": "start", "frame": "bounds", "font": "Liberation Serif", "fontSize": 17, "fontWeight": "normal", "color": "black", "offset": 27, "dx": 12}
    }
  ],
  "spacing": 118,
  "bounds": "full",
  "resolve": {"scale": {"x": "independent", "y": "independent", "color": "independent", "fill": "independent", "stroke": "independent", "strokeDash": "independent"}, "legend": {"strokeDash": "independent", "color": "independent"}}
}
